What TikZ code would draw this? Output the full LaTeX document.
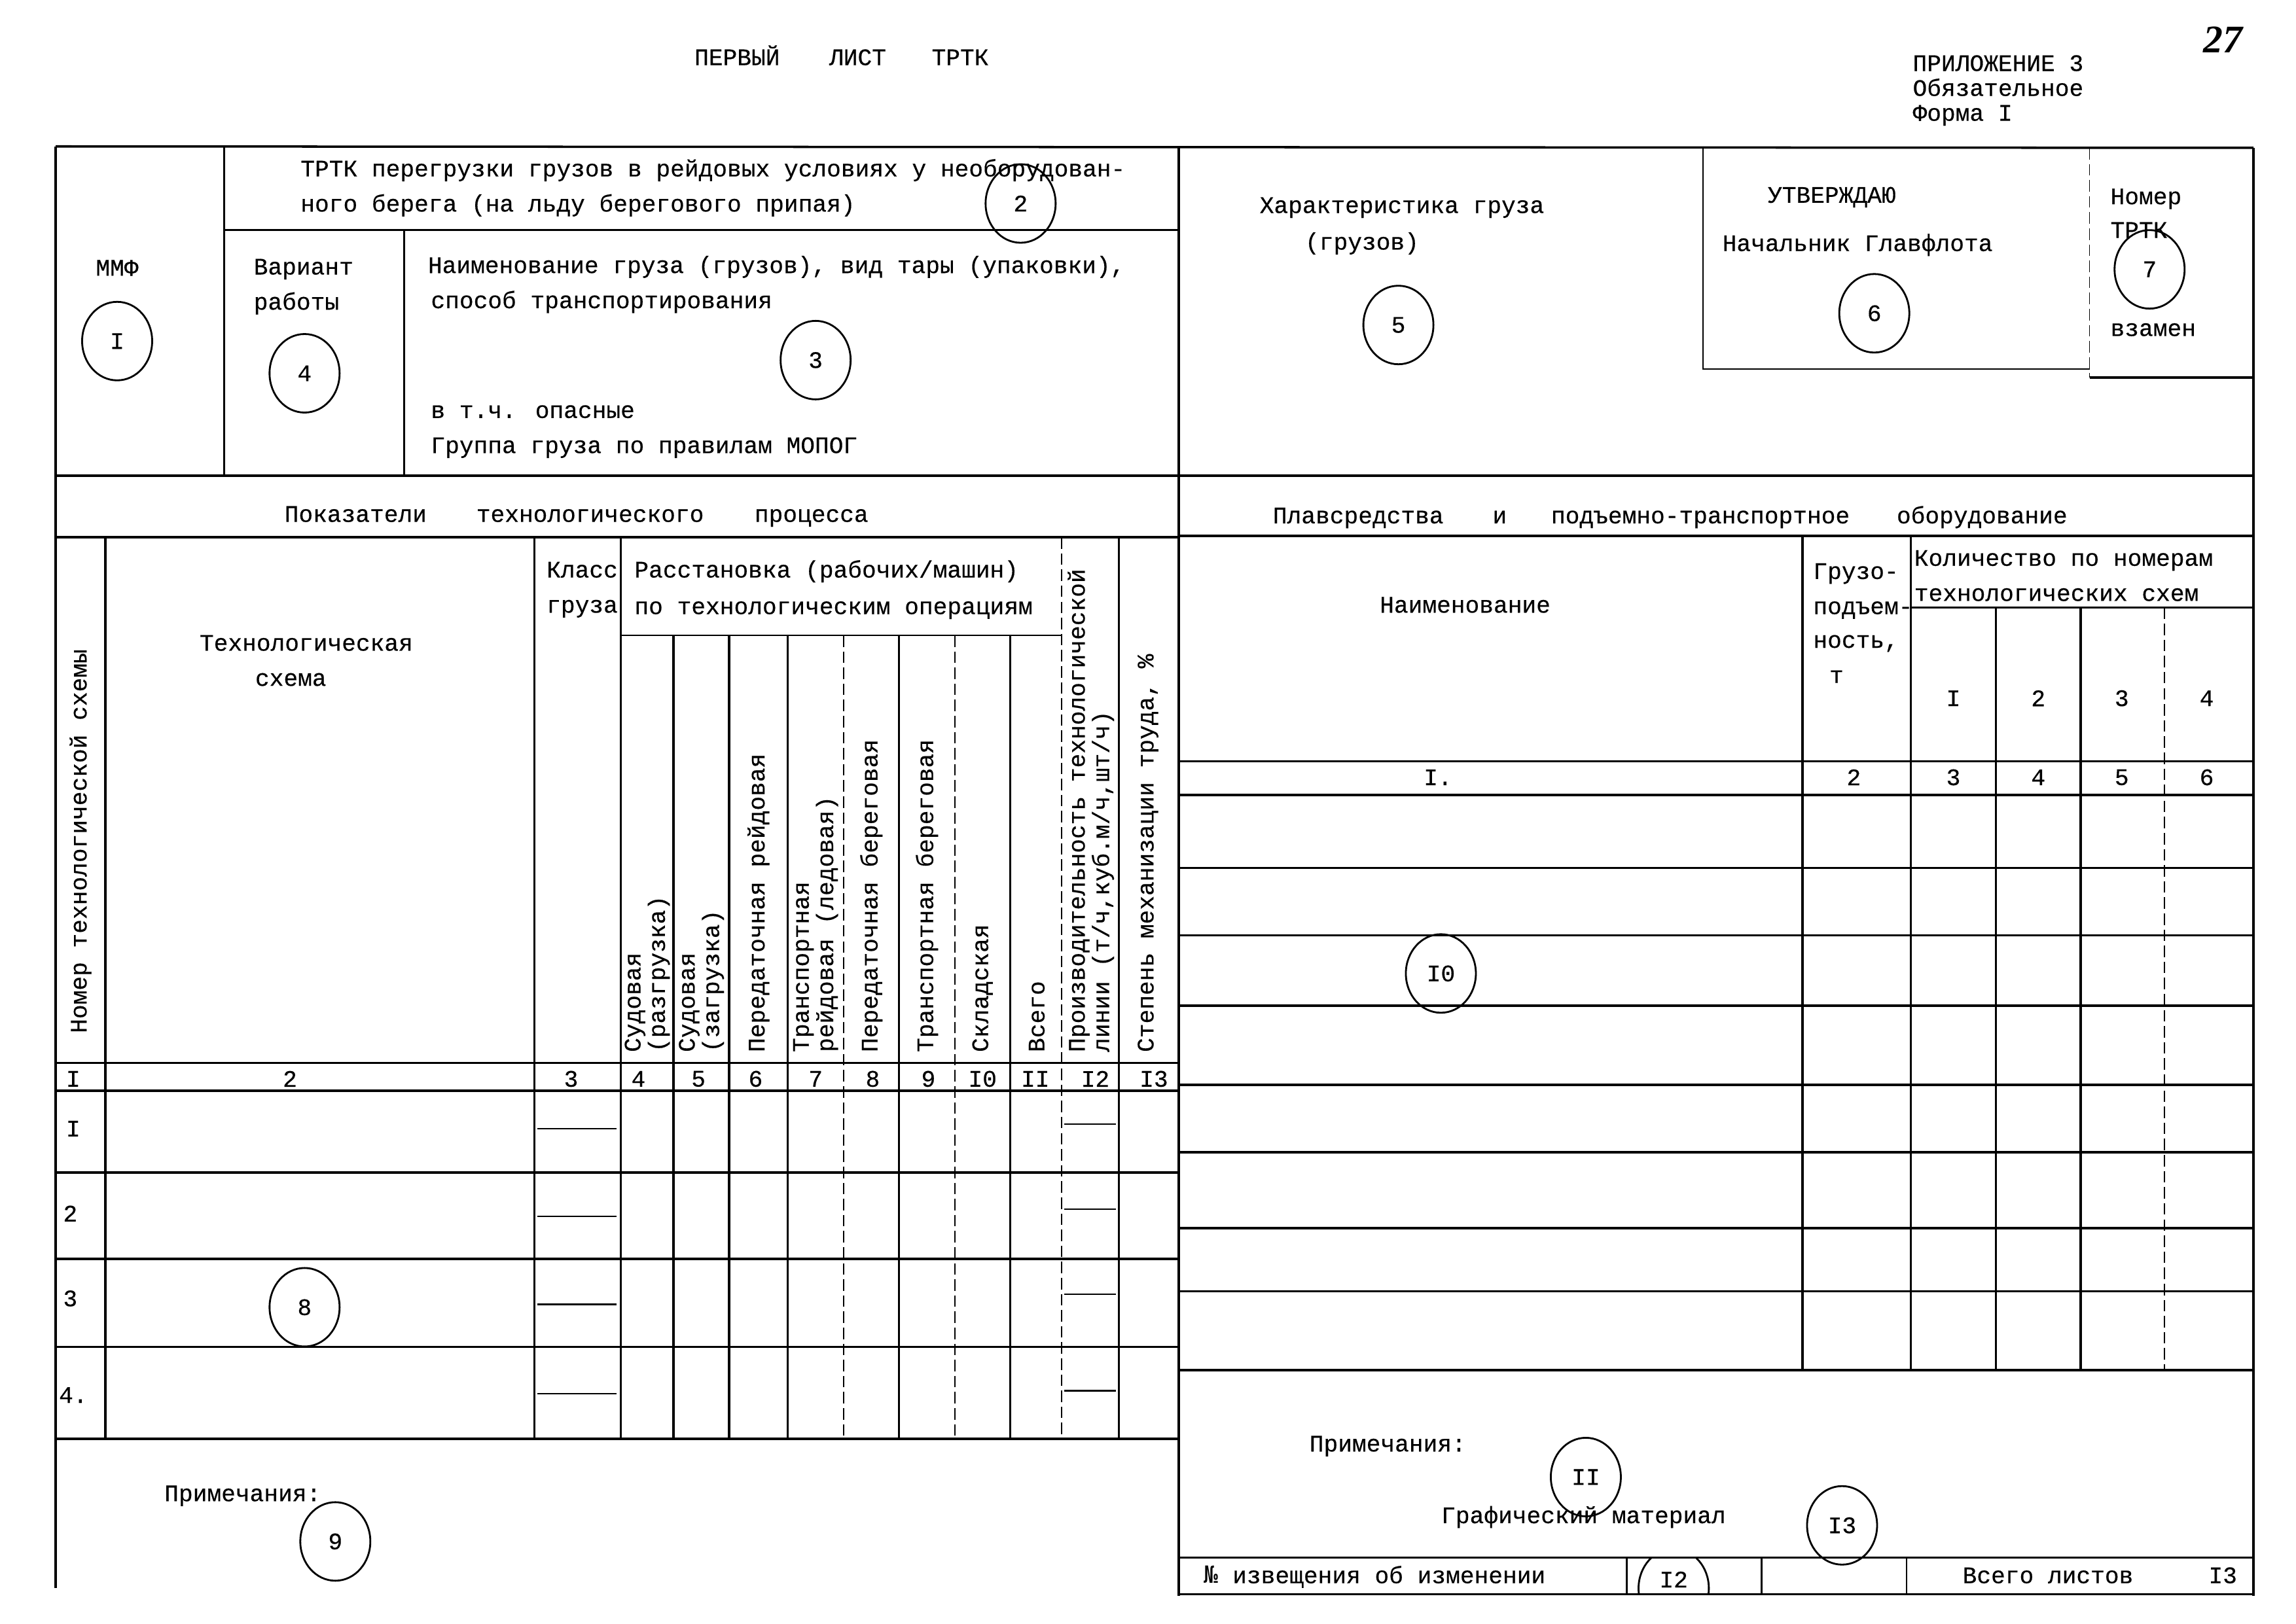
\documentclass[tikz,border=0pt]{standalone}
\usepackage{fontspec}
\setmainfont{Liberation Mono}[FakeBold=0.4]
\newfontfamily\djm{DejaVu Sans Mono}
\newfontfamily\hand{Liberation Serif}
\usetikzlibrary{shapes.geometric}
\begin{document}
\begin{tikzpicture}[x=0.022372cm, y=-0.022372cm,
  frame/.style={line width=1pt},
  thinln/.style={line width=0.7pt},
  dashln/.style={line width=0.5pt, dash pattern=on 5pt off 2pt},
  txt/.style={inner sep=0pt, anchor=base west, font=\fontsize{10.3}{15}\selectfont},
  ctxt/.style={inner sep=0pt, font=\fontsize{10.3}{15}\selectfont},
  vtxt/.style={inner sep=0pt, rotate=90, anchor=west, align=left, font=\fontsize{10.3}{10.6}\selectfont},
  numc/.style={draw, ellipse, line width=0.8pt, minimum width=1.07cm, minimum height=1.2cm, inner sep=0pt, font=\fontsize{10.3}{12}\selectfont}]
\useasboundingbox (0,0) rectangle (1568,1109);

% ---------- top texts ----------
\node[txt] (t1) at (474,44.5) {ПЕРВЫЙ};
\node[txt] (t2) at (566,44.5) {ЛИСТ};
\node[txt] (t3) at (636,44.5) {ТРТК};
\node[txt] (p1) at (1306,48.5) {ПРИЛОЖЕНИЕ 3};
\node[txt] (p2) at (1306,65.5) {Обязательное};
\node[txt] (p3) at (1306,82.5) {Форма I};
\node[inner sep=0pt, font=\hand\bfseries\itshape\fontsize{17}{17}\selectfont] (pg) at (1518,27) {27};

% ---------- header frame ----------
\draw[frame] (38,100) -- (1539,101);
\draw[frame] (38,100) -- (38,1085);
\draw[frame] (805,100) -- (805,1090);
\draw[frame] (1539,101) -- (1539,1090);
\draw[frame] (153,100) -- (153,325);
\draw[frame] (153,157) -- (805,157);
\draw[frame] (276,157) -- (276,325);
\draw[frame] (38,325) -- (1539,325);
\draw[thinln] (1163,100) -- (1163,252) -- (1427,252);
\draw[dashln] (1427,101) -- (1427,258);
\draw[frame] (1427,258) -- (1539,258);
\draw[frame] (38,367) -- (805,367);
\draw[frame] (805,366) -- (1539,366);

% ---------- header texts ----------
\node[ctxt] (mmf) at (80,183) {ММФ};
\node[numc] (c1) at (80,233) {I};
\node[txt] (h1) at (205,120.5) {ТРТК перегрузки грузов в рейдовых условиях у необорудован-};
\node[txt] (h2) at (205,144.5) {ного берега (на льду берегового припая)};
\node[numc] (c2) at (697,139) {2};
\node[txt] (v1) at (173,187.5) {Вариант};
\node[txt] (v2) at (173,211.5) {работы};
\node[numc] (c4) at (208,255) {4};
\node[txt] (n1) at (292,186.5) {Наименование груза (грузов), вид тары (упаковки),};
\node[txt] (n2) at (294,210.5) {способ транспортирования};
\node[numc] (c3) at (557,246) {3};
\node[txt] (n3) at (294,285.5) {в т.ч. опасные};
\node[txt] (n4) at (294,309.5) {Группа груза по правилам МОПОГ};

\node[txt] (k1) at (860,145.5) {Характеристика груза};
\node[txt] (k2) at (891,170.5) {(грузов)};
\node[numc] (c5) at (955,222) {5};
\node[txt] (u1) at (1207,138.5) {УТВЕРЖДАЮ};
\node[txt] (u2) at (1176,171.5) {Начальник Главфлота};
\node[numc] (c6) at (1280,214) {6};
\node[txt] (r1) at (1441,139.5) {Номер};
\node[txt] (r2) at (1441,162.5) {ТРТК};
\node[numc] (c7) at (1468,184) {7};
\node[txt] (r3) at (1441,229.5) {взамен};

% ---------- section titles ----------
\node[txt] (s1) at (194,356.5) {Показатели};
\node[txt] (s2) at (325,356.5) {технологического};
\node[txt] (s3) at (515,356.5) {процесса};
\node[txt] (s4) at (869,357.5) {Плавсредства};
\node[txt] (s5) at (1019,357.5) {и};
\node[txt] (s6) at (1059,357.5) {подъемно-транспортное};
\node[txt] (s7) at (1295,357.5) {оборудование};

% ---------- left table lines ----------
\foreach \x in {72,365,424,764} \draw[frame] (\x,367) -- (\x,983);
\draw[dashln] (725,367) -- (725,983);
\draw[thinln] (424,434) -- (725,434);
\foreach \x in {460,498,538,614,690} \draw[frame] (\x,434) -- (\x,983);
\foreach \x in {576,652} \draw[dashln] (\x,434) -- (\x,983);
\foreach \y in {726,745,801,860,920,983} \draw[frame] (38,\y) -- (805,\y);
\foreach \y in {771,831,891,952} \draw[thinln] (367,\y) -- (421,\y);
\foreach \y in {768,826,884,950} \draw[thinln] (727,\y) -- (762,\y);

% ---------- left table header texts ----------
\node[vtxt] (lh1) at (55,706) {Номер технологической схемы};
\node[txt] (lh2) at (136,444.5) {Технологическая};
\node[txt] (lh3) at (174,468.5) {схема};
\node[txt] (lh4) at (373,394.5) {Класс};
\node[txt] (lh5) at (373,418.5) {груза};
\node[txt] (lh6) at (433,394.5) {Расстановка (рабочих/машин)};
\node[txt] (lh7) at (433,419.5) {по технологическим операциям};
\node[vtxt] (cl4) at (442,719) {Судовая\\(разгрузка)};
\node[vtxt] (cl5) at (479,719) {Судовая\\(загрузка)};
\node[vtxt] (cl6) at (518,719) {Передаточная рейдовая};
\node[vtxt] (cl7) at (557,719) {Транспортная\\рейдовая (ледовая)};
\node[vtxt] (cl8) at (595,719) {Передаточная береговая};
\node[vtxt] (cl9) at (633,719) {Транспортная береговая};
\node[vtxt] (cl10) at (671,719) {Складская};
\node[vtxt] (cl11) at (708,719) {Всего};
\node[vtxt] (cl12) at (745,719) {Производительность технологической\\линии (т/ч,куб.м/ч,шт/ч)};
\node[vtxt] (cl13) at (784,719) {Степень механизации труда, \%};

% column numbers
\foreach \x/\t [count=\i] in {50/I,198/2,390/3,436/4,477/5,516/6,557/7,596/8,634/9,671/I0,707/II,748/I2,788/I3}
  \node[ctxt] (ln\i) at (\x,737) {\t};
\node[ctxt] (row1) at (50,771) {I};
\node[ctxt] (row2) at (48,829) {2};
\node[ctxt] (row3) at (48,887) {3};
\node[ctxt] (row4) at (50,953) {4.};
\node[numc] (c8) at (208,893) {8};

% left notes
\node[txt] (lnote) at (112,1025.5) {Примечания:};
\node[numc] (c9) at (229,1053) {9};

% ---------- right table ----------
\draw[frame] (1231,366) -- (1231,936);
\draw[frame] (1305,366) -- (1305,936);
\draw[thinln] (1305,415) -- (1539,415);
\draw[frame] (1363,415) -- (1363,936);
\draw[frame] (1421,415) -- (1421,936);
\draw[dashln] (1478,415) -- (1478,936);
\foreach \y in {520,543,593,639,687,741,787,839,882,936} \draw[frame] (805,\y) -- (1539,\y);

\node[txt] (rh1) at (942,418.5) {Наименование};
\node[txt] (rh2) at (1238,395.5) {Грузо-};
\node[txt] (rh3) at (1238,419.5) {подъем-};
\node[txt] (rh4) at (1238,442.5) {ность,};
\node[txt] (rh5) at (1249,466.5) {т};
\node[txt] (rh6) at (1307,386.5) {Количество по номерам};
\node[txt] (rh7) at (1307,410.5) {технологических схем};
\foreach \x/\t [count=\i] in {1334/I,1392/2,1449/3,1507/4}
  \node[ctxt] (rs\i) at (\x,477) {\t};
\foreach \x/\t [count=\i] in {982/I.,1266/2,1334/3,1392/4,1449/5,1507/6}
  \node[ctxt] (rn\i) at (\x,531) {\t};
\node[numc] (c10) at (984,665) {I0};

% right notes
\node[txt] (rnote) at (894,991.5) {Примечания:};
\node[numc] (c11) at (1083,1009) {II};
\node[txt] (graf) at (984,1040.5) {Графический материал};
\node[numc] (c13) at (1258,1042) {I3};

% bottom strip
\draw[thinln] (805,1064) -- (1539,1064);
\draw[thinln] (805,1089) -- (1539,1089);
\foreach \x in {1111,1203,1302} \draw[thinln] (\x,1064) -- (\x,1089);
\node[txt] (izv) at (822,1081.5) {{\djm №} извещения об изменении};
\begin{scope}
  \clip (1112,1065) rectangle (1202,1088);
  \draw[line width=0.8pt] (1143,1085) ellipse [x radius=24, y radius=27];
\end{scope}
\node[ctxt] (c12) at (1143,1079) {I2};
\node[txt] (vsego) at (1340,1081.5) {Всего листов};
\node[txt] (vsn) at (1508,1081.5) {I3};
\end{tikzpicture}
\end{document}
